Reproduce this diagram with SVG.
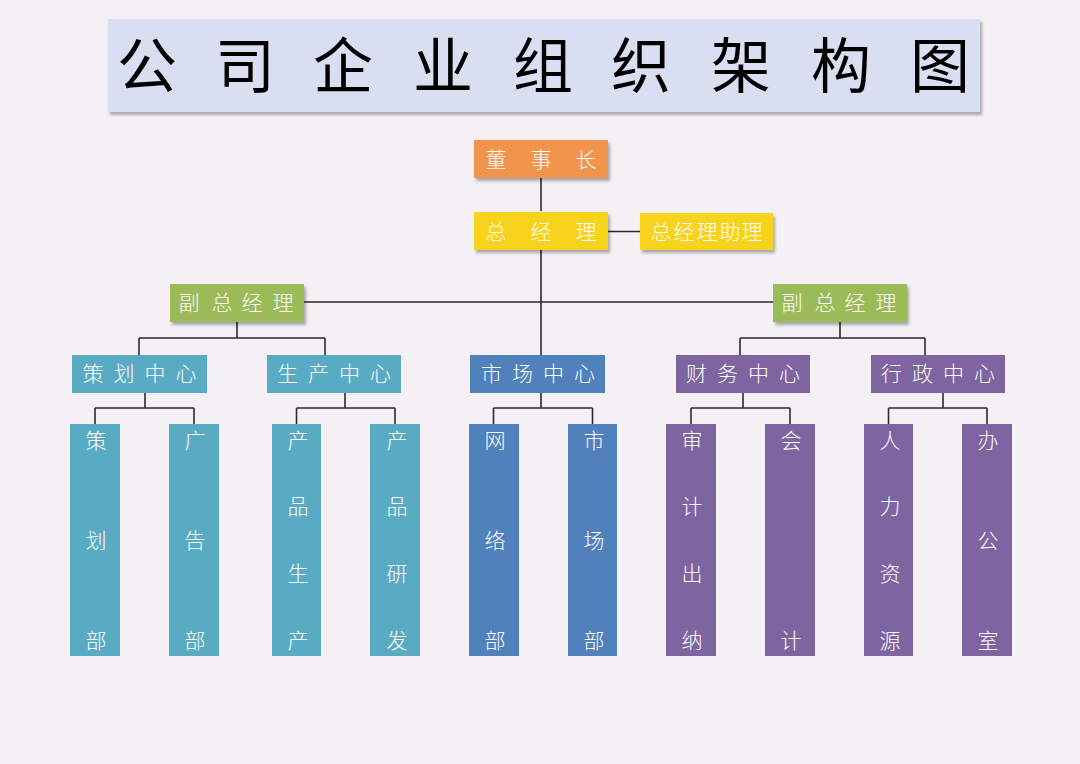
<svg xmlns="http://www.w3.org/2000/svg" width="1080" height="764" viewBox="0 0 1080 764">
<defs>
<filter id="sh" x="-10%" y="-20%" width="130%" height="160%">
<feDropShadow dx="2" dy="3" stdDeviation="1.5" flood-color="#000" flood-opacity="0.3"/>
</filter>
<style>
.t{font-family:"Noto Sans CJK SC","Noto Sans",sans-serif;fill:#fbfbfb;font-size:21px;font-weight:300;text-anchor:middle;dominant-baseline:central}
.title{font-family:"Noto Sans CJK SC","Noto Sans",sans-serif;fill:#000;font-size:60px;text-anchor:middle;dominant-baseline:central}
.ln{stroke:#2b2b2b;stroke-width:1.6;fill:none}
.or{fill:#f0954c}.ye{fill:#f8d31e}.gr{fill:#9bbb59}.te{fill:#59abc4}.bl{fill:#5181bd}.pu{fill:#7f64a2}
</style>
</defs>
<rect width="1080" height="764" fill="#f4f0f6"/>
<g id="title">
<rect x="108" y="19" width="872" height="93" fill="#d9dff0" filter="url(#sh)"/>
<text class="title" x="147 245 343 443 543 641 741 841 940" y="61">公司企业组织架构图</text>
</g>
<g id="connectors" class="ln">
<path d="M541 178V211M541 250V355M608 231.5H640M304 302H773"/>
<path d="M237 322V338M139 338H325M139 338V355M325 338V355"/>
<path d="M840 322V338M740 338H925M740 338V355M925 338V355"/>
<path d="M145 393V408M95 408H194M95 408V424M194 408V424"/>
<path d="M345 393V408M296.5 408H395M296.5 408V424M395 408V424"/>
<path d="M541 393V408M493.5 408H592.5M493.5 408V424M592.5 408V424"/>
<path d="M743 393V408M691 408H790M691 408V424M790 408V424"/>
<path d="M943 393V408M888.5 408H987M888.5 408V424M987 408V424"/>
</g>
<g id="chairman">
<rect class="or" x="474" y="140" width="134" height="38" filter="url(#sh)"/>
<text class="t" x="496 541 586" y="158">董事长</text>
</g>
<g id="gm">
<rect class="ye" x="474" y="212" width="134" height="38" filter="url(#sh)"/>
<text class="t" x="496 541 586" y="230">总经理</text>
</g>
<g id="gm-assistant">
<rect class="ye" x="640" y="213" width="133" height="37" filter="url(#sh)"/>
<text class="t" x="661 684 707 730 752" y="230">总经理助理</text>
</g>
<g id="vp-left">
<rect class="gr" x="170" y="284" width="134" height="38" filter="url(#sh)"/>
<text class="t" x="189 222 252 283" y="301">副总经理</text>
</g>
<g id="vp-right">
<rect class="gr" x="773" y="284" width="134" height="38" filter="url(#sh)"/>
<text class="t" x="792 825 855 886" y="301">副总经理</text>
</g>
<g id="planning-center">
<rect class="te" x="72" y="355" width="135" height="38"/>
<text class="t" x="93 124 155 186" y="372">策划中心</text>
</g>
<g id="production-center">
<rect class="te" x="267" y="355" width="134" height="38"/>
<text class="t" x="287.5 318.5 349.5 380.5" y="372">生产中心</text>
</g>
<g id="market-center">
<rect class="bl" x="470" y="355" width="135" height="38"/>
<text class="t" x="491.5 522.5 553.5 584.5" y="372">市场中心</text>
</g>
<g id="finance-center">
<rect class="pu" x="676" y="355" width="134" height="38"/>
<text class="t" x="696.5 727.5 758.5 789.5" y="372">财务中心</text>
</g>
<g id="admin-center">
<rect class="pu" x="871" y="355" width="134" height="38"/>
<text class="t" x="891.5 922.5 953.5 984.5" y="372">行政中心</text>
</g>
<g id="leaf-planning">
<rect class="te" x="70" y="424" width="50" height="232"/>
<text class="t" x="96" y="439">策</text><text class="t" x="96" y="539">划</text><text class="t" x="96" y="639">部</text>
</g>
<g id="leaf-ads">
<rect class="te" x="169" y="424" width="50" height="232"/>
<text class="t" x="195" y="439">广</text><text class="t" x="195" y="539">告</text><text class="t" x="195" y="639">部</text>
</g>
<g id="leaf-prod">
<rect class="te" x="272" y="424" width="49" height="232"/>
<text class="t" x="298" y="439">产</text><text class="t" x="298" y="505">品</text><text class="t" x="298" y="572">生</text><text class="t" x="298" y="639">产</text>
</g>
<g id="leaf-rd">
<rect class="te" x="370" y="424" width="50" height="232"/>
<text class="t" x="397" y="439">产</text><text class="t" x="397" y="505">品</text><text class="t" x="397" y="572">研</text><text class="t" x="397" y="639">发</text>
</g>
<g id="leaf-network">
<rect class="bl" x="469" y="424" width="50" height="232"/>
<text class="t" x="495" y="439">网</text><text class="t" x="495" y="539">络</text><text class="t" x="495" y="639">部</text>
</g>
<g id="leaf-market">
<rect class="bl" x="568" y="424" width="49" height="232"/>
<text class="t" x="594" y="439">市</text><text class="t" x="594" y="539">场</text><text class="t" x="594" y="639">部</text>
</g>
<g id="leaf-audit">
<rect class="pu" x="666" y="424" width="50" height="232"/>
<text class="t" x="692" y="439">审</text><text class="t" x="692" y="505">计</text><text class="t" x="692" y="572">出</text><text class="t" x="692" y="639">纳</text>
</g>
<g id="leaf-accounting">
<rect class="pu" x="765" y="424" width="50" height="232"/>
<text class="t" x="791" y="439">会</text><text class="t" x="791" y="639">计</text>
</g>
<g id="leaf-hr">
<rect class="pu" x="864" y="424" width="49" height="232"/>
<text class="t" x="890" y="439">人</text><text class="t" x="890" y="505">力</text><text class="t" x="890" y="572">资</text><text class="t" x="890" y="639">源</text>
</g>
<g id="leaf-office">
<rect class="pu" x="962" y="424" width="50" height="232"/>
<text class="t" x="988" y="439">办</text><text class="t" x="988" y="539">公</text><text class="t" x="988" y="639">室</text>
</g>
</svg>
